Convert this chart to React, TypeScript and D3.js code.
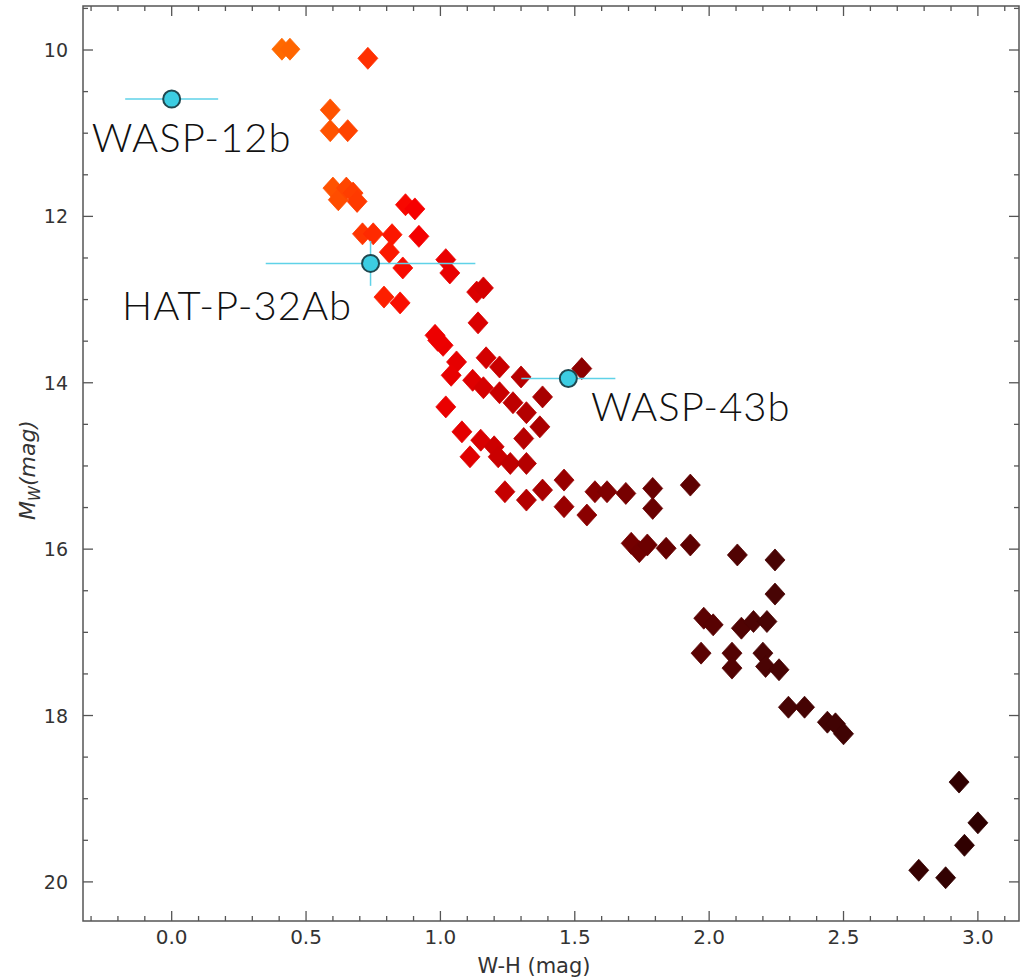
import React from "react";
import * as d3 from "d3";

// Brown-dwarf colour–magnitude sequence: W-H colour vs. absolute W magnitude
const dwarfWH: number[] = [
  0.41, 0.44, 0.73, 0.59, 0.59, 0.655, 0.6, 0.62, 0.65, 0.675, 0.69, 0.71, 0.75, 0.82, 0.92,
  0.81, 0.86, 1.02, 1.035, 0.79, 0.85, 1.135, 1.16, 1.14, 0.87, 0.905, 0.98, 1.01, 0.99, 1.06,
  1.04, 1.02, 1.12, 1.17, 1.22, 1.16, 1.22, 1.3, 1.27, 1.32, 1.37, 1.38, 1.31, 1.08, 1.11,
  1.15, 1.2, 1.215, 1.26, 1.32, 1.24, 1.32, 1.38, 1.46, 1.46, 1.545, 1.575, 1.62, 1.69, 1.79,
  1.79, 1.93, 1.526, 1.71, 1.74, 1.77, 1.84, 1.93, 2.105, 2.245, 2.245, 1.98, 2.015, 2.12, 2.165,
  2.215, 1.97, 2.085, 2.085, 2.2, 2.21, 2.26, 2.295, 2.355, 2.44, 2.47, 2.5, 2.93, 3.0, 2.95,
  2.78, 2.88,
];
const dwarfMW: number[] = [
  9.99, 9.99, 10.1, 10.72, 10.97, 10.97, 11.66, 11.8, 11.66, 11.72, 11.82, 12.21, 12.21, 12.22, 12.24,
  12.43, 12.62, 12.52, 12.68, 12.97, 13.04, 12.91, 12.86, 13.28, 11.86, 11.91, 13.43, 13.55, 13.49, 13.75,
  13.91, 14.29, 13.97, 13.7, 13.81, 14.06, 14.12, 13.93, 14.24, 14.36, 14.53, 14.17, 14.67, 14.59, 14.89,
  14.69, 14.77, 14.89, 14.97, 14.97, 15.31, 15.41, 15.29, 15.17, 15.49, 15.59, 15.31, 15.31, 15.33, 15.27,
  15.51, 15.23, 13.83, 15.93, 16.03, 15.95, 15.99, 15.95, 16.07, 16.13, 16.54, 16.83, 16.91, 16.95, 16.87,
  16.87, 17.25, 17.25, 17.43, 17.25, 17.41, 17.45, 17.9, 17.9, 18.08, 18.1, 18.22, 18.8, 19.29, 19.56,
  19.86, 19.95,
];

// Hot Jupiters with their uncertainties
const planetNames: string[] = ["WASP-12b", "HAT-P-32Ab", "WASP-43b"];
const planetWH: number[] = [0.0, 0.74, 1.476];
const planetWHErr: number[] = [0.173, 0.39, 0.175];
const planetMW: number[] = [10.59, 12.565, 13.948];
const planetMWErr: number[] = [0.05, 0.27, 0.05];
// Where each planet's name sits (data units, text baseline start)
const labelWH: number[] = [-0.297, -0.185, 1.56];
const labelMW: number[] = [11.226, 13.246, 14.46];

const xMajor: number[] = [0, 0.5, 1, 1.5, 2, 2.5, 3];
const yMajor: number[] = [10, 12, 14, 16, 18, 20];

// Colour ramp along W-H colour
const colourStops: number[] = [0.4, 0.6, 0.75, 0.9, 1.1, 1.3, 1.5, 1.8, 2.2, 3.0];
const colourValues: string[] = [
  "#ff6a00", "#ff5200", "#ff2a00", "#f60000", "#e20000", "#b80000", "#900000", "#680000", "#4a0404", "#2e0000",
];

const W = 1020;
const H = 979;
const plot = { left: 83, right: 1019, top: 6, bottom: 921 };

export default function App() {
  const x = d3.scaleLinear().domain([-0.33, 3.153]).range([plot.left, plot.right]);
  const y = d3.scaleLinear().domain([9.471, 20.47]).range([plot.top, plot.bottom]);
  const colour = d3
    .scaleLinear<string>()
    .domain(colourStops)
    .range(colourValues)
    .interpolate(d3.interpolateRgb)
    .clamp(true);

  const xMinor = d3.range(-3, 32).map((i) => i / 10).filter((v) => v >= -0.33 && v <= 3.153 && Math.abs(v * 2 - Math.round(v * 2)) > 1e-6);
  const yMinor = d3.range(19, 41).map((i) => i / 2).filter((v) => v >= 9.471 && v <= 20.47 && v % 2 !== 0);

  const dw = 10;
  const dh = 11;
  const diamond = (cx: number, cy: number) =>
    `M${cx},${cy - dh}L${cx + dw},${cy}L${cx},${cy + dh}L${cx - dw},${cy}Z`;

  const tickCol = "#555";
  const major = 10;
  const minor = 5;

  return (
    <svg
      width={W}
      height={H}
      style={{ position: "absolute", left: 0, top: 0, display: "block", background: "#fff" }}
    >
      <rect x={0} y={0} width={W} height={H} fill="#fff" />

      {/* diamonds */}
      <g>
        {dwarfWH.map((v, i) => (
          <path key={i} d={diamond(x(v), y(dwarfMW[i]))} fill={colour(v)} stroke={colour(v)} strokeWidth={0.8} />
        ))}
      </g>

      {/* planets */}
      <g>
        {planetWH.map((v, i) => (
          <g key={planetNames[i]}>
            <line x1={x(v - planetWHErr[i])} x2={x(v + planetWHErr[i])} y1={y(planetMW[i])} y2={y(planetMW[i])} stroke="#5fd2e8" strokeWidth={1.5} />
            <line x1={x(v)} x2={x(v)} y1={y(planetMW[i] - planetMWErr[i])} y2={y(planetMW[i] + planetMWErr[i])} stroke="#5fd2e8" strokeWidth={1.5} />
            <circle cx={x(v)} cy={y(planetMW[i])} r={8.5} fill="#3ccde2" stroke="#1f4850" strokeWidth={2} />
            <text
              x={x(labelWH[i])}
              y={y(labelMW[i])}
              fontFamily="Lato, 'Open Sans', sans-serif"
              fontWeight={300}
              fontSize={40}
              letterSpacing={1}
              fill="#111"
            >
              {planetNames[i]}
            </text>
          </g>
        ))}
      </g>

      {/* frame */}
      <rect
        x={plot.left}
        y={plot.top}
        width={plot.right - plot.left}
        height={plot.bottom - plot.top}
        fill="none"
        stroke={tickCol}
        strokeWidth={1.5}
      />

      {/* ticks on all four sides, pointing inward */}
      <g stroke={tickCol} strokeWidth={1.3}>
        {xMajor.map((v) => (
          <g key={"xM" + v}>
            <line x1={x(v)} x2={x(v)} y1={plot.bottom} y2={plot.bottom - major} />
            <line x1={x(v)} x2={x(v)} y1={plot.top} y2={plot.top + major} />
          </g>
        ))}
        {xMinor.map((v) => (
          <g key={"xm" + v}>
            <line x1={x(v)} x2={x(v)} y1={plot.bottom} y2={plot.bottom - minor} />
            <line x1={x(v)} x2={x(v)} y1={plot.top} y2={plot.top + minor} />
          </g>
        ))}
        {yMajor.map((v) => (
          <g key={"yM" + v}>
            <line x1={plot.left} x2={plot.left + major} y1={y(v)} y2={y(v)} />
            <line x1={plot.right} x2={plot.right - major} y1={y(v)} y2={y(v)} />
          </g>
        ))}
        {yMinor.map((v) => (
          <g key={"ym" + v}>
            <line x1={plot.left} x2={plot.left + minor} y1={y(v)} y2={y(v)} />
            <line x1={plot.right} x2={plot.right - minor} y1={y(v)} y2={y(v)} />
          </g>
        ))}
      </g>

      {/* tick labels */}
      <g fontFamily="'DejaVu Sans', sans-serif" fill="#333">
        {xMajor.map((v) => (
          <text key={"xl" + v} x={x(v)} y={944} fontSize={20} textAnchor="middle">
            {d3.format(".1f")(v)}
          </text>
        ))}
        {yMajor.map((v) => (
          <text key={"yl" + v} x={plot.left - 15} y={y(v)} fontSize={19} textAnchor="end" dominantBaseline="central">
            {v}
          </text>
        ))}
      </g>

      {/* axis titles */}
      <text x={534} y={973} fontFamily="'DejaVu Sans', sans-serif" fontSize={21} fill="#333" textAnchor="middle">
        W-H (mag)
      </text>
      <text
        transform={`translate(35, 470) rotate(-90)`}
        fontFamily="'DejaVu Sans', sans-serif"
        fontSize={22}
        fontStyle="italic"
        fill="#333"
        textAnchor="middle"
      >
        M<tspan fontSize={15} dy={5}>W</tspan>
        <tspan dy={-5}>(mag)</tspan>
      </text>
    </svg>
  );
}
